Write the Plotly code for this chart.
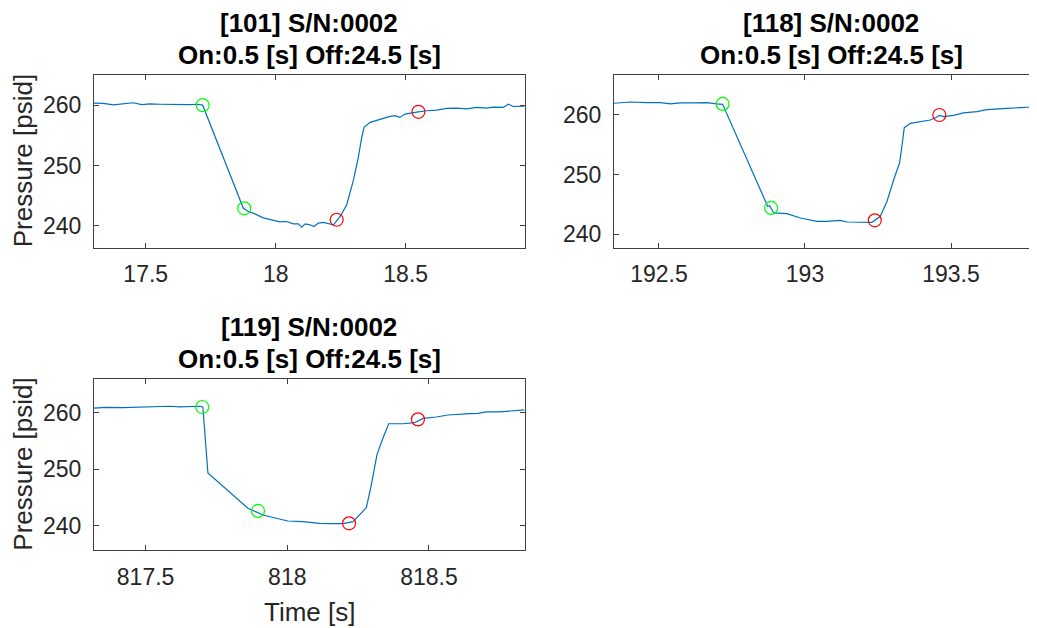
import plotly.graph_objects as go

# ---------------- data ----------------
titles_line1 = ["[101] S/N:0002", "[118] S/N:0002", "[119] S/N:0002"]
title_line2 = "On:0.5 [s] Off:24.5 [s]"
y_label = "Pressure [psid]"
x_label = "Time [s]"

# Trace 101
t101 = [17.299, 17.337, 17.3755, 17.414, 17.452, 17.4845, 17.5165, 17.555, 17.5935, 17.632,
        17.670, 17.696, 17.715, 17.719, 17.8755, 17.895, 17.920, 17.952, 17.9845, 18.0165,
        18.042, 18.068, 18.087, 18.100, 18.113, 18.132, 18.147, 18.164, 18.183, 18.209,
        18.222, 18.247, 18.273, 18.299, 18.318, 18.331, 18.340, 18.363, 18.401, 18.440,
        18.459, 18.478, 18.497, 18.5165, 18.5486, 18.581, 18.619, 18.658, 18.696, 18.7345,
        18.773, 18.811, 18.837, 18.8755, 18.895, 18.914, 18.957]
p101 = [260.35, 260.3, 260.05, 260.25, 260.4, 260.1, 260.2, 260.15, 260.1, 260.15,
        260.1, 260.15, 260.1, 260.0, 242.9, 242.36, 241.97, 241.32, 240.99, 240.66,
        240.71, 240.33, 240.33, 239.78, 240.33, 240.16, 239.89, 240.44, 240.55, 240.33,
        240.16, 241.53, 243.45, 247.56, 251.4, 254.68, 256.33, 257.15, 257.70, 258.14,
        258.25, 257.97, 258.52, 258.68, 258.9, 259.07, 259.18, 259.45, 259.51, 259.4,
        259.62, 259.51, 259.67, 259.62, 260.16, 259.78, 259.84]
on101_t = [17.719, 17.879]
on101_p = [260.0, 242.9]
off101_t = [18.2345, 18.549]
off101_p = [241.0, 258.9]

# Trace 118
t118 = [192.345, 192.402, 192.459, 192.505, 192.539, 192.573, 192.619, 192.664, 192.699, 192.716,
        192.718, 192.872, 192.879, 192.893, 192.938, 192.984, 193.041, 193.075, 193.121,
        193.144, 193.1895, 193.2295, 193.258, 193.281, 193.304, 193.324, 193.332, 193.340, 193.361,
        193.395, 193.429, 193.452, 193.461, 193.475, 193.509, 193.543, 193.589, 193.623, 193.6575,
        193.692, 193.737, 193.772, 193.832]
p118 = [261.96, 262.18, 262.07, 262.07, 261.85, 262.02, 262.02, 262.07, 261.85, 261.85,
        261.79, 244.71, 244.82, 243.59, 243.47, 242.74, 242.18, 242.18, 242.35,
        242.07, 242.07, 242.02, 243.03, 245.55, 249.19, 251.99, 254.79, 257.87, 258.6,
        258.88, 259.16, 259.66, 259.94, 259.72, 259.94, 260.34, 260.56, 260.9, 260.95,
        261.12, 261.23, 261.34, 261.45]
on118_t = [192.718, 192.884]
on118_p = [261.85, 244.43]
off118_t = [193.239, 193.460]
off118_p = [242.35, 260.0]

# Trace 119
t119 = [817.314, 817.361, 817.42, 817.479, 817.538, 817.585, 817.62, 817.655, 817.691, 817.702,
        817.72, 817.861, 817.914, 817.961, 818.002, 818.055, 818.114, 818.161, 818.1965, 818.232,
        818.279, 818.2965, 818.3165, 818.338, 818.358, 818.408, 818.449, 818.479, 818.526, 818.567,
        818.608, 818.6435, 818.673, 818.702, 818.749, 818.785, 818.832, 818.837]
p119 = [260.77, 260.95, 260.89, 260.95, 261.01, 261.13, 261.01, 261.07, 261.13, 261.01,
        249.32, 243.09, 241.9, 241.31, 240.83, 240.71, 240.42, 240.36, 240.36, 240.71,
        243.2, 247.24, 252.58, 255.55, 258.04, 258.04, 258.22, 258.99, 259.23, 259.58,
        259.64, 259.82, 259.88, 260.12, 260.12, 260.3, 260.47, 260.5]
on119_t = [817.70, 817.8965]
on119_p = [261.0, 242.61]
off119_t = [818.218, 818.461]
off119_p = [240.42, 258.81]

xticks = [[17.5, 18, 18.5], [192.5, 193, 193.5], [817.5, 818, 818.5]]
xticktext = [["17.5", "18", "18.5"], ["192.5", "193", "193.5"], ["817.5", "818", "818.5"]]
yticks = [240, 250, 260]
yticktext = ["240", "250", "260"]

# ---------------- layout constants ----------------
OFF = 8                      # page body margin of the html page
W, H = 1037 - OFF, 628 - OFF
FONT = "Liberation Sans, Arial, sans-serif"
AXC = "#404040"
TXT = "#262626"
BLUE = "#0072BD"


def px(x):
    return (x - OFF) / W


def py(y):
    return 1 - (y - OFF) / H


dom_x = [(px(94), px(524.5)), (px(614), 1.0), (px(94), px(524.5))]
dom_y = [(py(247.5), py(75)), (py(247.5), py(75)), (py(550), py(379.3))]
xr = [[17.301, 18.957], [192.346, 193.7945], [817.318, 818.837]]
yr = [[236.4, 265.0], [237.8, 266.7], [235.7, 265.9]]

fig = go.Figure()

series = [
    (t101, p101, on101_t, on101_p, off101_t, off101_p),
    (t118, p118, on118_t, on118_p, off118_t, off118_p),
    (t119, p119, on119_t, on119_p, off119_t, off119_p),
]

for i, (t, p, ont, onp, offt, offp) in enumerate(series):
    xa = "x" if i == 0 else f"x{i+1}"
    ya = "y" if i == 0 else f"y{i+1}"
    fig.add_trace(go.Scatter(x=t, y=p, mode="lines", line=dict(color=BLUE, width=1.2),
                             xaxis=xa, yaxis=ya, showlegend=False, hoverinfo="skip"))
    fig.add_trace(go.Scatter(x=ont, y=onp, mode="markers",
                             marker=dict(symbol="circle-open", size=13, color="#00FF00",
                                         line=dict(width=1.2, color="#00FF00")),
                             xaxis=xa, yaxis=ya, showlegend=False, cliponaxis=False))
    fig.add_trace(go.Scatter(x=offt, y=offp, mode="markers",
                             marker=dict(symbol="circle-open", size=13, color="#FF0000",
                                         line=dict(width=1.2, color="#FF0000")),
                             xaxis=xa, yaxis=ya, showlegend=False, cliponaxis=False))

layout = dict(
    width=W, height=H,
    margin=dict(l=0, r=0, t=0, b=0),
    paper_bgcolor="white", plot_bgcolor="white",
    font=dict(family=FONT, color=TXT),
    showlegend=False,
)

for i in range(3):
    xk = "xaxis" if i == 0 else f"xaxis{i+1}"
    yk = "yaxis" if i == 0 else f"yaxis{i+1}"
    yanchor = "x" if i == 0 else f"x{i+1}"
    xanchor = "y" if i == 0 else f"y{i+1}"
    layout[xk] = dict(domain=list(dom_x[i]), range=xr[i], anchor=xanchor,
                      tickmode="array", tickvals=xticks[i], ticktext=xticktext[i],
                      ticks="inside", ticklen=5, tickwidth=1, tickcolor=AXC,
                      showline=True, linecolor=AXC, linewidth=1, mirror="ticks",
                      showgrid=False, zeroline=False,
                      tickfont=dict(family=FONT, size=23, color=TXT),
                      ticklabelstandoff=6)
    layout[yk] = dict(domain=list(dom_y[i]), range=yr[i], anchor=yanchor,
                      tickmode="array", tickvals=yticks, ticktext=yticktext,
                      ticks="inside", ticklen=5, tickwidth=1, tickcolor=AXC,
                      showline=True, linecolor=AXC, linewidth=1,
                      mirror=(False if i == 1 else "ticks"),
                      showgrid=False, zeroline=False,
                      tickfont=dict(family=FONT, size=23, color=TXT),
                      ticklabelstandoff=7)

# titles and axis labels as annotations (screen pixel positions -> paper coords)
title_cx = [309, 831, 309]
title_y1 = [22.7, 22.7, 326.7]
title_y2 = [55, 55, 359]
ann = []
for i in range(3):
    ann.append(dict(text=f"<b>{titles_line1[i]}</b>", x=px(title_cx[i]), y=py(title_y1[i]),
                    xref="paper", yref="paper", xanchor="center", yanchor="middle",
                    showarrow=False, font=dict(family=FONT, size=26, color="black")))
    ann.append(dict(text=f"<b>{title_line2}</b>", x=px(title_cx[i]), y=py(title_y2[i]),
                    xref="paper", yref="paper", xanchor="center", yanchor="middle",
                    showarrow=False, font=dict(family=FONT, size=26, color="black")))
for cy in [161.25, 464.65]:
    ann.append(dict(text=y_label, x=px(23), y=py(cy), textangle=-90,
                    xref="paper", yref="paper", xanchor="center", yanchor="middle",
                    showarrow=False, font=dict(family=FONT, size=26, color=TXT)))
ann.append(dict(text=x_label, x=px(309), y=py(612),
                xref="paper", yref="paper", xanchor="center", yanchor="middle",
                showarrow=False, font=dict(family=FONT, size=26, color=TXT)))
layout["annotations"] = ann

fig.update_layout(**layout)
fig.write_html("out.html")
